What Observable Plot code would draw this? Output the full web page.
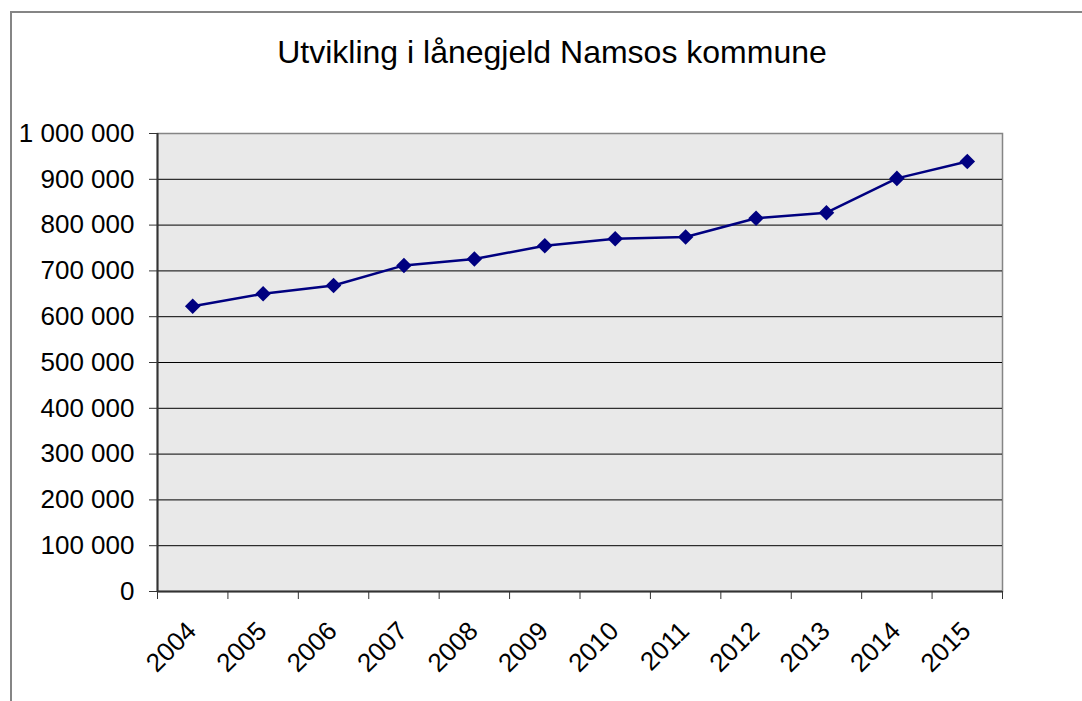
<!DOCTYPE html>
<html>
<head>
<meta charset="utf-8">
<script src="https://cdn.jsdelivr.net/npm/d3@7"></script>
<script src="https://cdn.jsdelivr.net/npm/@observablehq/plot@0.6"></script>
<style>
  html, body { margin: 0; padding: 0; background: #fff; }
  #wrap { position: relative; width: 1082px; height: 701px; overflow: hidden; font-family: "Liberation Sans", Arial, sans-serif; }
  #outer { position: absolute; left: 10px; top: 11px; width: 1200px; height: 800px; border-left: 2px solid #858585; border-top: 2px solid #858585; box-sizing: border-box; }
  #title { position: absolute; left: 0; top: 36px; width: 1104px; text-align: center; font-size: 32px; line-height: 32px; color: #000; }
  #chart { position: absolute; left: 0; top: 0; }
</style>
</head>
<body>
<div id="wrap">
  <div id="outer"></div>
  <div id="chart"></div>
  <div id="title">Utvikling i lånegjeld Namsos kommune</div>
</div>
<script>
const titleText = "Utvikling i lånegjeld Namsos kommune";
const years = [2004, 2005, 2006, 2007, 2008, 2009, 2010, 2011, 2012, 2013, 2014, 2015];
const debt = [623000, 650000, 668000, 712000, 726000, 755000, 770000, 774000, 815000, 827000, 902000, 939000];
const yTicks = [0, 100000, 200000, 300000, 400000, 500000, 600000, 700000, 800000, 900000, 1000000];
const gridTicks = yTicks.slice(1, -1);
const boundaryTicks = years.concat([years[years.length - 1] + 1]);

const data = years.map((y, i) => ({year: y, value: debt[i]}));
const fmt = d => d3.format(",")(d).replace(/,/g, " ");

const chart = Plot.plot({
  width: 1082,
  height: 701,
  marginLeft: 157,
  marginRight: 80,
  marginTop: 133,
  marginBottom: 110,
  style: {fontFamily: "'Liberation Sans', Arial, sans-serif", background: "transparent", color: "#000"},
  x: {type: "linear", domain: [years[0], years[years.length - 1] + 1]},
  y: {domain: [0, 1000000]},
  marks: [
    Plot.frame({fill: "#e9e9e9", stroke: "#858585", strokeWidth: 1.5}),
    Plot.ruleY(gridTicks, {stroke: "#000", strokeWidth: 1}),
    Plot.ruleX([years[0]], {stroke: "#333", strokeWidth: 2}),
    Plot.ruleY([0], {stroke: "#333", strokeWidth: 2}),
    Plot.axisY({ticks: yTicks, tickFormat: fmt, tickSize: 8, tickPadding: 15, fontSize: 26, stroke: "#333", label: null}),
    Plot.axisX({ticks: boundaryTicks, tickFormat: () => "", tickSize: 8, stroke: "#333", label: null}),
    Plot.text(years, {x: d => d + 0.5, text: d => String(d), frameAnchor: "bottom", rotate: -45, textAnchor: "end", dx: 5, dy: 41, fontSize: 26, fill: "#000"}),
    Plot.line(data, {x: d => d.year + 0.5, y: "value", stroke: "#000080", strokeWidth: 2.5}),
    Plot.dot(data, {x: d => d.year + 0.5, y: "value", symbol: "diamond2", r: 7, fill: "#000080", stroke: "none"})
  ]
});
document.getElementById("chart").appendChild(chart);
document.getElementById("title").textContent = titleText;
</script>
</body>
</html>
